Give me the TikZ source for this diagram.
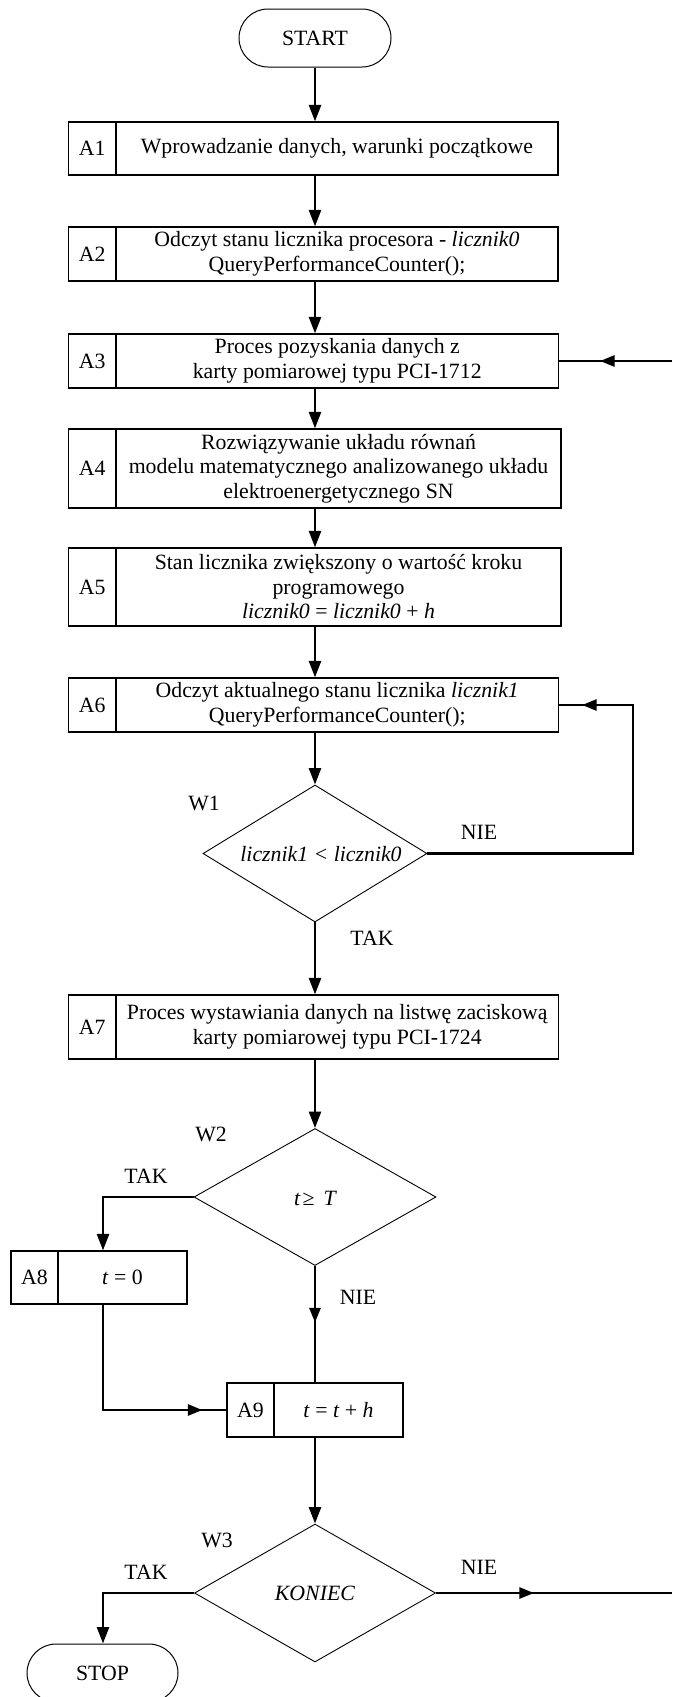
\documentclass[tikz,border=0pt]{standalone}
\usepackage{fontspec}
\setmainfont{Liberation Serif}
\usetikzlibrary{arrows.meta,shapes.geometric,shapes.misc,decorations.markings,calc}

\newcommand{\procbox}[8]{%
  \node[pbox, minimum width={(#4-#2)*1pt}, minimum height={(#5-#3)*1pt}] (#1) at ({(#2+#4)/2},{(#3+#5)/2}) {};
  \draw[divline] (#6,#3) -- (#6,#5);
  \node[txt] (#1l) at ({(#2+#6)/2},{(#3+#5)/2}) {#7};
  \node[txt] (#1t) at ({(#6+#4)/2},{(#3+#5)/2}) {#8};
}

\begin{document}
\begin{tikzpicture}[x=1pt,y=-1pt,
  every node/.style={font=\fontsize{21.8pt}{24.5pt}\selectfont},
  pbox/.style={draw, rectangle, line width=1.2pt, inner sep=0pt},
  divline/.style={line width=1.2pt},
  term/.style={draw, rounded rectangle, line width=1pt, minimum width=152pt, minimum height=58pt, inner sep=0pt},
  dec/.style={draw, diamond, line width=0.9pt, inner sep=0pt},
  txt/.style={align=center, inner sep=1pt},
  lbl/.style={inner sep=1pt},
  wire/.style={line width=2.5pt},
  conn/.style={line width=2.5pt, -{Triangle[length=16.5pt,width=12pt]}},
  midarr/.style={postaction={decorate}, decoration={markings, mark=at position #1 with {\arrow{Triangle[length=14.5pt,width=11pt]}}}}
]
\fill[white] (0,0) rectangle (672,1697);
\useasboundingbox (0,0) rectangle (672,1697);

\node[term] (start) at (315,38) {START};
\procbox{A1}{68.6}{122}{558}{175}{116}{A1}{Wprowadzanie danych, warunki początkowe}
\procbox{A2}{68.6}{227}{558}{281}{116}{A2}{Odczyt stanu licznika procesora - \textit{licznik0}\\QueryPerformanceCounter();}
\procbox{A3}{68.6}{334}{558.5}{388}{116}{A3}{Proces pozyskania danych z\\karty pomiarowej typu PCI-1712}
\procbox{A4}{68.6}{429}{561}{508}{116}{A4}{Rozwiązywanie układu równań\\modelu matematycznego analizowanego układu\\elektroenergetycznego SN}
\procbox{A5}{68.6}{548}{561}{626}{116}{A5}{Stan licznika zwiększony o wartość kroku\\programowego\\\textit{licznik0} = \textit{licznik0} + \textit{h}}
\procbox{A6}{68.6}{678}{558.5}{732}{116}{A6}{Odczyt aktualnego stanu licznika \textit{licznik1}\\QueryPerformanceCounter();}
\node[dec, minimum width=224pt, minimum height=137pt] (W1) at (315,853.5) {};
\node[txt] (W1t) at (321,854) {\textit{licznik1 < licznik0}};
\procbox{A7}{68.6}{995}{558.5}{1059}{116}{A7}{Proces wystawiania danych na listwę zaciskową\\karty pomiarowej typu PCI-1724}
\node[dec, minimum width=242pt, minimum height=137pt] (W2) at (315,1197) {};
\node[txt] (W2t) at (315.6,1198) {\textit{t}\hspace{2pt}≥\hspace{9pt}\textit{T}};
\procbox{A8}{11}{1251}{187}{1304}{58}{A8}{\textit{t} = 0}
\procbox{A9}{227}{1383}{403}{1437}{274}{A9}{\textit{t} = \textit{t} + \textit{h}}
\node[dec, minimum width=241pt, minimum height=138pt] (W3) at (315,1593) {};
\node[txt] (W3t) at (315,1593) {\textit{KONIEC}};
\node[term, minimum width=151pt] (stop) at (102.5,1673) {STOP};

% labels
\node[lbl] (lW1) at (204,803) {W1};
\node[lbl] (lW1n) at (479,832) {NIE};
\node[lbl] (lW1t) at (372,938) {TAK};
\node[lbl] (lW2) at (211,1134) {W2};
\node[lbl] (lW2t) at (146,1176) {TAK};
\node[lbl] (lW2n) at (358,1297) {NIE};
\node[lbl] (lW3) at (217,1540) {W3};
\node[lbl] (lW3t) at (146,1572) {TAK};
\node[lbl] (lW3n) at (479,1567) {NIE};

% helper coordinates
\coordinate (rA3) at (672,361);
\coordinate (loop) at (633,853.5);
\coordinate (j2) at (103,1197);
\coordinate (j8) at (103,1410);
\coordinate (j3) at (103,1593);
\coordinate (rW3) at (672,1593);

% main column
\draw[conn] (start.south) -- (start.south |- A1.north);
\draw[conn] (start.south |- A1.south) -- (start.south |- A2.north);
\draw[conn] (start.south |- A2.south) -- (start.south |- A3.north);
\draw[conn] (start.south |- A3.south) -- (start.south |- A4.north);
\draw[conn] (start.south |- A4.south) -- (start.south |- A5.north);
\draw[conn] (start.south |- A5.south) -- (start.south |- A6.north);
\draw[conn] (start.south |- A6.south) -- (W1.north);
\draw[conn] (W1.south) -- (W1.south |- A7.north);
\draw[conn] (W1.south |- A7.south) -- (W2.north);
\draw[wire, midarr=56.5pt] (W2.south) -- (A9.north);
\draw[conn] (A9.south) -- (W3.north);

% side branches
\draw[wire, midarr=72pt] (rA3) -- (rA3 -| A3.east);
\draw[wire, midarr=-23pt] (W1.east) -- (loop) |- (A6.east);
\draw[conn] (W2.west) -- (j2) -- (j2 |- A8.north);
\draw[wire, midarr=-24pt] (j8 |- A8.south) -- (j8) -- (A9.west);
\draw[conn] (W3.west) -- (j3) -- (j3 |- stop.north);
\draw[wire, midarr=98pt] (W3.east) -- (rW3);
\end{tikzpicture}
\end{document}
